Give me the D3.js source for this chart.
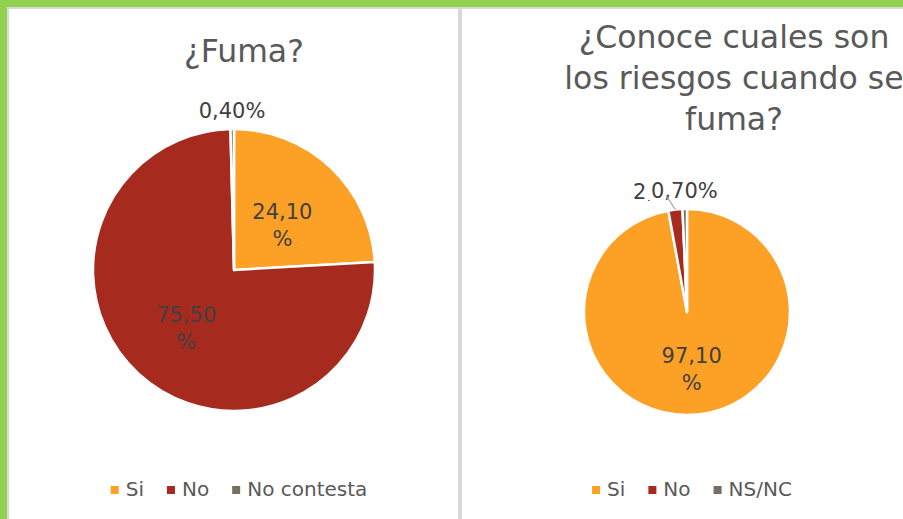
<!DOCTYPE html>
<html>
<head>
<meta charset="utf-8">
<script src="https://cdn.jsdelivr.net/npm/d3@7"></script>
<style>
body { margin: 0; background: #fff; }
svg { display: block; font-family: "DejaVu Sans", sans-serif; }
</style>
</head>
<body>
<svg id="chart"></svg>
<script>
var categories1 = ["Si", "No", "No contesta"];
var values1 = [24.1, 75.5, 0.4];
var title1 = ["¿Fuma?"];

var categories2 = ["Si", "No", "NS/NC"];
var values2 = [97.1, 2.2, 0.7];
var title2 = ["¿Conoce cuales son", "los riesgos cuando se", "fuma?"];

var colors = ["#FDA026", "#A62A1E", "#766F62"];

var W = 903, H = 519;
var svg = d3.select("#chart").attr("width", W).attr("height", H);

// frame: green band top and left, thin grey inner line, grey divider
svg.append("rect").attr("x", 0).attr("y", 0).attr("width", W).attr("height", 7).attr("fill", "#92D050");
svg.append("rect").attr("x", 0).attr("y", 0).attr("width", 7).attr("height", H).attr("fill", "#92D050");
svg.append("path")
	.attr("d", "M8," + H + "V8H" + W)
	.attr("fill", "none")
	.attr("stroke", "#D9D9D9")
	.attr("stroke-width", 2);
svg.append("rect").attr("x", 458).attr("y", 7).attr("width", 4).attr("height", H).attr("fill", "#D9D9D9");

var fmt = function(v) { return d3.format(".2f")(v).replace(".", ","); };

function drawPie(opt)
{
	var g = svg.append("g").attr("transform", "translate(" + opt.cx + "," + opt.cy + ")");
	var r = opt.r;

	var pie = d3.pie().sort(null).value(function(d) { return d; });
	var arcs = pie(opt.values);
	var arc = d3.arc().innerRadius(0).outerRadius(r);
	var color = d3.scaleOrdinal().domain(opt.categories).range(colors);

	g.selectAll(".slice")
		.data(arcs)
		.enter()
		.append("path")
			.attr("class", "slice")
			.attr("d", arc)
			.attr("fill", function(d, i) { return color(opt.categories[i]); })
			.attr("stroke", "#fff")
			.attr("stroke-width", 2.5)
			.attr("stroke-linejoin", "round");

	// inside labels for big slices
	var big = arcs.filter(function(d) { return d.value >= 5; });
	var bl = g.selectAll(".inlabel")
		.data(big)
		.enter()
		.append("text")
			.attr("class", "inlabel")
			.attr("text-anchor", "middle")
			.attr("font-size", 21)
			.attr("fill", "#404040")
			.attr("transform", function(d) {
				var c = arc.centroid(d);
				return "translate(" + c[0] + "," + c[1] + ")";
			});
	bl.append("tspan").attr("x", 0).attr("y", 0).text(function(d) { return fmt(d.value); });
	bl.append("tspan").attr("x", 0).attr("y", 27).text("%");

	// outside labels for small slices
	var outR = r + 18;
	var leaders = [];
	arcs.forEach(function(d, i) {
		if (d.value >= 5) return;
		var a = (d.startAngle + d.endAngle) / 2;
		var x = Math.sin(a) * outR, y = -Math.cos(a) * outR;
		var next = arcs[i + 1];
		if (next && next.value < 5) {
			x -= 7;
			leaders.push([[Math.sin(a) * r, -Math.cos(a) * r], [x, y + 4]]);
		}
		var t = g.append("text")
			.attr("x", x)
			.attr("y", y + 7)
			.attr("text-anchor", "middle")
			.attr("font-size", 21)
			.attr("fill", "#404040")
			.text(fmt(d.value) + "%");
		var bb = t.node().getBBox();
		g.insert("rect", function() { return t.node(); })
			.attr("x", bb.x - 4).attr("y", bb.y + 3)
			.attr("width", bb.width + 8).attr("height", bb.height - 6)
			.attr("fill", "#fff");
	});
	leaders.forEach(function(l) {
		g.append("line")
			.attr("x1", l[0][0]).attr("y1", l[0][1])
			.attr("x2", l[1][0]).attr("y2", l[1][1])
			.attr("stroke", "#A6A6A6")
			.attr("stroke-width", 1.2);
	});

	// title
	svg.append("text")
		.attr("text-anchor", "middle")
		.attr("font-size", 31.5)
		.attr("fill", "#595959")
		.selectAll("tspan")
		.data(opt.title)
		.enter()
		.append("tspan")
			.attr("x", opt.titleX)
			.attr("y", function(d, i) { return opt.titleY + i * 41; })
			.text(function(d) { return d; });

	// legend
	var lg = svg.append("g");
	var items = lg.selectAll(".item")
		.data(opt.categories)
		.enter()
		.append("g")
			.attr("class", "item");
	items.append("rect")
		.attr("width", 8).attr("height", 8)
		.attr("y", -10)
		.attr("fill", function(d) { return color(d); });
	items.append("text")
		.attr("x", 15)
		.attr("font-size", 20)
		.attr("fill", "#595959")
		.text(function(d) { return d; });
	var xoff = 0;
	items.each(function() {
		var w = d3.select(this).select("text").node().getComputedTextLength();
		d3.select(this).attr("transform", "translate(" + xoff + ",0)");
		xoff += 15 + w + 23;
	});
	var total = xoff - 23;
	lg.attr("transform", "translate(" + (opt.cx + 5 - total / 2) + "," + opt.legendY + ")");
}

drawPie({
	cx: 234, cy: 270, r: 141,
	values: values1, categories: categories1,
	title: title1, titleX: 244, titleY: 62,
	legendY: 496
});

drawPie({
	cx: 687, cy: 312, r: 103,
	values: values2, categories: categories2,
	title: title2, titleX: 734, titleY: 48,
	legendY: 496
});
</script>
</body>
</html>
